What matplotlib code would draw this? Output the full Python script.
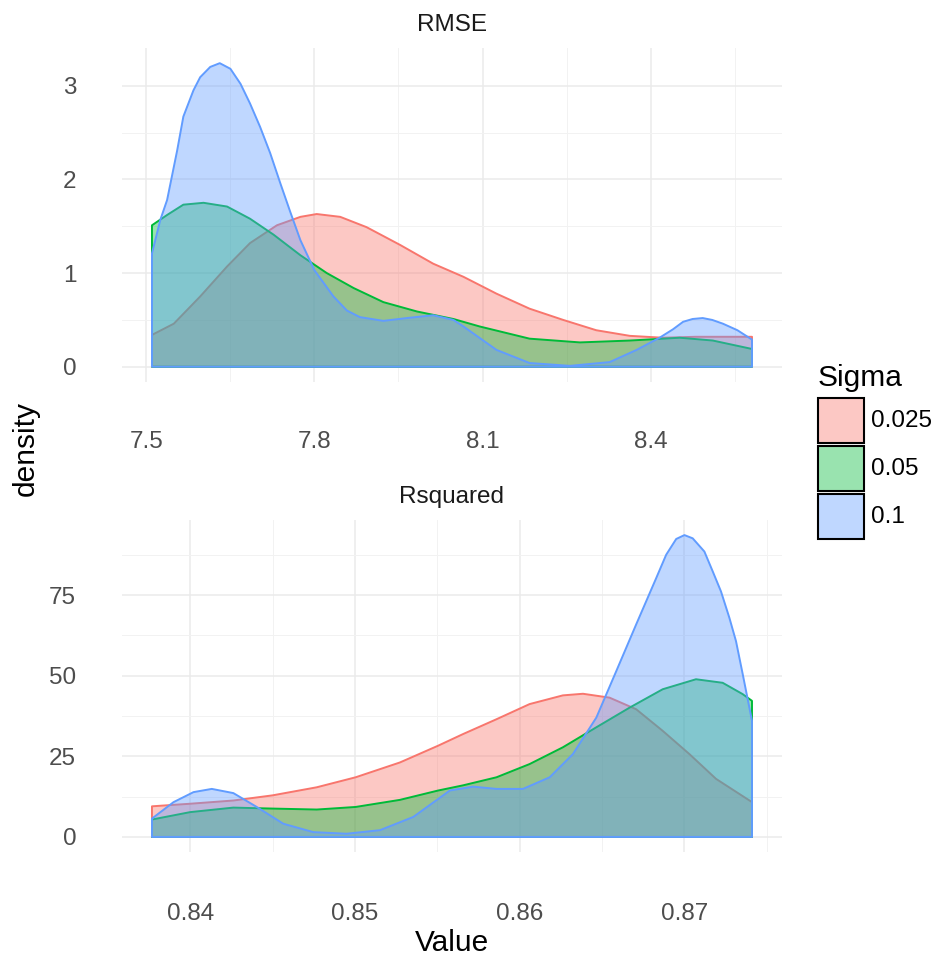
import matplotlib
matplotlib.use("Agg")
import matplotlib.pyplot as plt
from matplotlib.patches import Rectangle
from matplotlib.colors import to_rgba

plt.rcParams['font.family'] = ['Liberation Sans', 'DejaVu Sans']

# density curves per Sigma level, read at sampled Value positions
sigmas = ["0.025", "0.05", "0.1"]
colors = ["#F8766D", "#00BA38", "#619CFF"]

rmse_x_025 = [7.510, 7.549, 7.596, 7.644, 7.685, 7.733, 7.775, 7.804, 7.846, 7.893, 7.953,
              8.012, 8.066, 8.125, 8.184, 8.244, 8.303, 8.363, 8.422, 8.480, 8.581]
rmse_d_025 = [0.34, 0.46, 0.75, 1.07, 1.32, 1.51, 1.60, 1.63, 1.60, 1.49, 1.30,
              1.10, 0.96, 0.78, 0.62, 0.50, 0.39, 0.33, 0.31, 0.32, 0.32]

rmse_x_05 = [7.510, 7.537, 7.566, 7.602, 7.644, 7.685, 7.727, 7.775, 7.822, 7.870, 7.923,
             7.983, 8.048, 8.095, 8.184, 8.274, 8.363, 8.452, 8.511, 8.581]
rmse_d_05 = [1.51, 1.62, 1.73, 1.75, 1.71, 1.58, 1.41, 1.19, 1.00, 0.84, 0.69,
             0.59, 0.51, 0.43, 0.30, 0.26, 0.28, 0.31, 0.28, 0.19]

rmse_x_1 = [7.510, 7.525, 7.537, 7.555, 7.566, 7.584, 7.596, 7.614, 7.631, 7.650, 7.668,
            7.685, 7.703, 7.721, 7.739, 7.757, 7.775, 7.800, 7.834, 7.858, 7.881, 7.923,
            7.965, 8.012, 8.048, 8.066, 8.125, 8.184, 8.256, 8.327, 8.375, 8.416, 8.440,
            8.458, 8.475, 8.493, 8.510, 8.529, 8.555, 8.581]
rmse_d_1 = [1.21, 1.57, 1.78, 2.31, 2.67, 2.95, 3.09, 3.20, 3.24, 3.18, 3.02,
            2.81, 2.56, 2.28, 1.96, 1.65, 1.35, 1.03, 0.75, 0.60, 0.53, 0.49,
            0.52, 0.55, 0.50, 0.43, 0.18, 0.04, 0.01, 0.05, 0.18, 0.31, 0.40,
            0.48, 0.51, 0.52, 0.50, 0.46, 0.39, 0.29]

rsq_x_025 = [0.83768, 0.84000, 0.84262, 0.84500, 0.84768, 0.85004, 0.85273, 0.85505,
             0.85656, 0.85859, 0.86060, 0.86262, 0.86384, 0.86545, 0.86707, 0.86868,
             0.87030, 0.87192, 0.87410]
rsq_d_025 = [9.5, 10.3, 11.3, 12.9, 15.4, 18.5, 23.1, 28.3,
             31.9, 36.5, 41.2, 43.9, 44.4, 43.2, 39.6, 32.9,
             25.7, 18.0, 10.8]

rsq_x_05 = [0.83768, 0.84000, 0.84262, 0.84500, 0.84768, 0.85004, 0.85273, 0.85505,
            0.85656, 0.85859, 0.86060, 0.86262, 0.86465, 0.86667, 0.86868, 0.87070,
            0.87232, 0.87353, 0.87410]
rsq_d_05 = [5.4, 7.7, 9.1, 8.8, 8.5, 9.3, 11.5, 14.4,
            16.0, 18.5, 22.6, 27.8, 34.0, 40.1, 45.8, 48.9,
            47.8, 44.3, 42.2]

rsq_x_1 = [0.83768, 0.83899, 0.84020, 0.84131, 0.84262, 0.84404, 0.84565, 0.84747,
           0.84949, 0.85152, 0.85354, 0.85576, 0.85717, 0.85859, 0.86020, 0.86182,
           0.86323, 0.86465, 0.86586, 0.86707, 0.86828, 0.86889, 0.86950, 0.87000,
           0.87050, 0.87121, 0.87172, 0.87222, 0.87273, 0.87313, 0.87354, 0.87410]
rsq_d_1 = [5.7, 10.8, 13.9, 14.9, 13.6, 9.3, 4.1, 1.5,
           1.0, 2.1, 6.2, 14.4, 15.6, 14.9, 14.9, 18.5,
           25.7, 37.0, 51.4, 65.9, 80.2, 87.5, 92.4, 93.6,
           92.6, 88.5, 82.3, 76.1, 67.9, 60.7, 50.4, 36.0]

rmse_xticks = [7.5, 7.8, 8.1, 8.4]
rmse_xminor = [7.65, 7.95, 8.25, 8.55]
rmse_yticks = [0, 1, 2, 3]
rmse_yminor = [0.5, 1.5, 2.5]
rsq_xticks = [0.84, 0.85, 0.86, 0.87]
rsq_xminor = [0.845, 0.855, 0.865, 0.875]
rsq_yticks = [0, 25, 50, 75]
rsq_yminor = [12.5, 37.5, 62.5, 87.5]

panels = [
    ("RMSE", [(rmse_x_025, rmse_d_025), (rmse_x_05, rmse_d_05), (rmse_x_1, rmse_d_1)],
     rmse_xticks, rmse_xminor, rmse_yticks, rmse_yminor),
    ("Rsquared", [(rsq_x_025, rsq_d_025), (rsq_x_05, rsq_d_05), (rsq_x_1, rsq_d_1)],
     rsq_xticks, rsq_xminor, rsq_yticks, rsq_yminor),
]

W, H = 939, 958
fig = plt.figure(figsize=(W / 100, H / 100), dpi=100)
ax_top = fig.add_axes([0.1299, 0.6013, 0.7029, 0.3486])
ax_bot = fig.add_axes([0.1299, 0.1106, 0.7029, 0.3466])

for ax, (title, curves, xt, xm, yt, ym) in zip([ax_top, ax_bot], panels):
    for (xs, ds), col in zip(curves, colors):
        px = [xs[0]] + list(xs) + [xs[-1]]
        py = [0] + list(ds) + [0]
        ax.fill(px, py, facecolor=to_rgba(col, 0.4), edgecolor=col, linewidth=1.4,
                joinstyle='round', zorder=2)
    ax.margins(x=0.05, y=0.05)
    ax.set_xticks(xt)
    ax.set_xticks(xm, minor=True)
    ax.set_yticks(yt)
    ax.set_yticks(ym, minor=True)
    ax.set_xticklabels([f"{v:g}" for v in xt])
    ax.set_yticklabels([f"{v:g}" for v in yt])
    ax.grid(True, which='major', color='#EBEBEB', linewidth=1.1, zorder=0)
    ax.grid(True, which='minor', color='#F2F2F2', linewidth=0.7, zorder=0)
    ax.set_axisbelow(True)
    for s in ax.spines.values():
        s.set_visible(False)
    ax.tick_params(which='both', length=0, labelsize=17.5, labelcolor='#4D4D4D')
    ax.tick_params(axis='y', pad=33)
    ax.set_title(title, fontsize=17.5, color='#1A1A1A', pad=12)

ax_top.tick_params(axis='x', pad=35)
ax_bot.tick_params(axis='x', pad=37)

fig.text(26 / W, 1 - 449 / H, "density", rotation=90, fontsize=21.5,
         ha='center', va='center')
fig.text(452 / W, 1 - 943 / H, "Value", fontsize=21.5, ha='center', va='center')

# legend drawn by hand: title, square keys, labels
fig.text(818 / W, 1 - 386 / H, "Sigma", fontsize=21.5, ha='left', va='baseline')
key_tops = [398, 446, 494]
for top, col, lab in zip(key_tops, colors, sigmas):
    fig.patches.append(Rectangle((818 / W, 1 - (top + 45) / H), 46 / W, 45 / H,
                                 transform=fig.transFigure, facecolor=to_rgba(col, 0.4),
                                 edgecolor='black', linewidth=1.5))
    fig.text(871 / W, 1 - (top + 23) / H, lab, fontsize=17.5, ha='left', va='center')

fig.savefig("out.png", dpi=100)
